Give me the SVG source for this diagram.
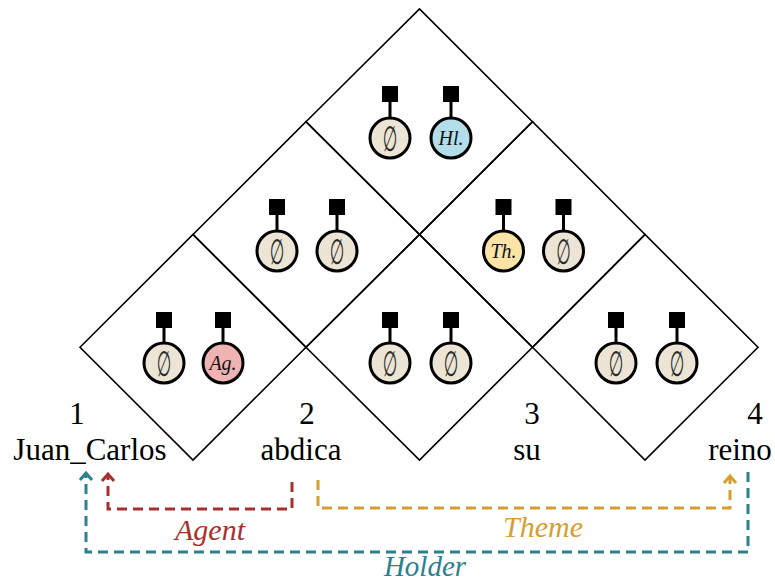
<svg xmlns="http://www.w3.org/2000/svg" width="775" height="582" viewBox="0 0 775 582">
<defs>
<style>
.cell{fill:none;stroke:#000;stroke-width:1.6;stroke-linejoin:miter}
.sq{fill:#000}
.stem{stroke:#000;stroke-width:3}
.c{stroke:#000;stroke-width:3;fill:#ECE5D5}
.ag{fill:#F0B3B3}
.hl{fill:#B3DDE8}
.th{fill:#FCE3A6}
.es{font-family:"DejaVu Sans",sans-serif;font-size:27px;fill:#2a2a2a;text-anchor:middle;dominant-baseline:central}
.rl{font-family:"Liberation Serif","DejaVu Serif",serif;font-style:italic;font-size:20px;fill:#111;text-anchor:middle}
.wd{font-family:"Liberation Serif","Times New Roman",serif;font-size:31px;fill:#000;text-anchor:middle}
.lab{font-family:"Liberation Serif","Times New Roman",serif;font-style:italic;font-size:30px;text-anchor:middle}
.arr{fill:none;stroke-width:3;stroke-dasharray:10 6}
</style>
<marker id="mRed" markerUnits="userSpaceOnUse" markerWidth="20" markerHeight="20" refX="0" refY="0" viewBox="-10 -10 20 20" orient="auto" overflow="visible">
<path d="M-7,-6 L0,0 L-7,6" fill="none" stroke="#A8302C" stroke-width="3"/>
</marker>
<marker id="mTeal" markerUnits="userSpaceOnUse" markerWidth="20" markerHeight="20" refX="0" refY="0" viewBox="-10 -10 20 20" orient="auto" overflow="visible">
<path d="M-7,-6 L0,0 L-7,6" fill="none" stroke="#2C8090" stroke-width="3"/>
</marker>
<marker id="mGold" markerUnits="userSpaceOnUse" markerWidth="20" markerHeight="20" refX="0" refY="0" viewBox="-10 -10 20 20" orient="auto" overflow="visible">
<path d="M-7,-6 L0,0 L-7,6" fill="none" stroke="#D4A030" stroke-width="3"/>
</marker>
</defs>
<rect width="775" height="582" fill="#fff"/>

<g id="chart">
<polygon class="cell" points="80,347.25 193,234.5 306,347.25 193,460"/>
<polygon class="cell" points="306,347.25 419.5,234.5 532.5,347.25 419.5,460"/>
<polygon class="cell" points="532.5,347.25 645,234.5 758,347.25 645,460"/>
<polygon class="cell" points="193,234.5 306,121.75 419.5,234.5 306,347.25"/>
<polygon class="cell" points="419.5,234.5 532.5,121.75 645,234.5 532.5,347.25"/>
<polygon class="cell" points="306,121.75 419.5,9 532.5,121.75 419.5,234.5"/>
</g>

<!-- top cell -->
<g id="n-1-4-a"><rect class="sq" x="382" y="86" width="16" height="16"/><line class="stem" x1="390" y1="102" x2="390" y2="118"/><circle class="c" cx="390" cy="138" r="20"/><text class="es" transform="translate(390,138) scale(0.62,1.3)">∅</text></g>
<g id="n-1-4-b"><rect class="sq" x="443" y="86" width="16" height="16"/><line class="stem" x1="451" y1="102" x2="451" y2="118"/><circle class="c hl" cx="451" cy="138" r="20"/><text class="rl" x="451" y="145">Hl.</text></g>
<!-- middle row -->
<g id="n-1-3-a"><rect class="sq" x="269" y="199" width="16" height="16"/><line class="stem" x1="277" y1="215" x2="277" y2="231"/><circle class="c" cx="277" cy="251" r="20"/><text class="es" transform="translate(277,251) scale(0.62,1.3)">∅</text></g>
<g id="n-1-3-b"><rect class="sq" x="329" y="199" width="16" height="16"/><line class="stem" x1="337" y1="215" x2="337" y2="231"/><circle class="c" cx="337" cy="251" r="20"/><text class="es" transform="translate(337,251) scale(0.62,1.3)">∅</text></g>
<g id="n-2-4-a"><rect class="sq" x="495.5" y="199" width="16" height="16"/><line class="stem" x1="503.5" y1="215" x2="503.5" y2="231"/><circle class="c th" cx="503.5" cy="251" r="20"/><text class="rl" x="503.5" y="258">Th.</text></g>
<g id="n-2-4-b"><rect class="sq" x="555.5" y="199" width="16" height="16"/><line class="stem" x1="563.5" y1="215" x2="563.5" y2="231"/><circle class="c" cx="563.5" cy="251" r="20"/><text class="es" transform="translate(563.5,251) scale(0.62,1.3)">∅</text></g>
<!-- bottom row -->
<g id="n-1-2-a"><rect class="sq" x="156" y="312" width="16" height="16"/><line class="stem" x1="164" y1="328" x2="164" y2="343"/><circle class="c" cx="164" cy="363" r="20"/><text class="es" transform="translate(164,363) scale(0.62,1.3)">∅</text></g>
<g id="n-1-2-b"><rect class="sq" x="215" y="312" width="16" height="16"/><line class="stem" x1="223" y1="328" x2="223" y2="343"/><circle class="c ag" cx="223" cy="363" r="20"/><text class="rl" x="223" y="370">Ag.</text></g>
<g id="n-2-3-a"><rect class="sq" x="382" y="312" width="16" height="16"/><line class="stem" x1="390" y1="328" x2="390" y2="343"/><circle class="c" cx="390" cy="363" r="20"/><text class="es" transform="translate(390,363) scale(0.62,1.3)">∅</text></g>
<g id="n-2-3-b"><rect class="sq" x="443" y="312" width="16" height="16"/><line class="stem" x1="451" y1="328" x2="451" y2="343"/><circle class="c" cx="451" cy="363" r="20"/><text class="es" transform="translate(451,363) scale(0.62,1.3)">∅</text></g>
<g id="n-3-4-a"><rect class="sq" x="608" y="312" width="16" height="16"/><line class="stem" x1="616" y1="328" x2="616" y2="343"/><circle class="c" cx="616" cy="363" r="20"/><text class="es" transform="translate(616,363) scale(0.62,1.3)">∅</text></g>
<g id="n-3-4-b"><rect class="sq" x="669" y="312" width="16" height="16"/><line class="stem" x1="677" y1="328" x2="677" y2="343"/><circle class="c" cx="677" cy="363" r="20"/><text class="es" transform="translate(677,363) scale(0.62,1.3)">∅</text></g>

<g id="words">
<text class="wd" x="77" y="424">1</text>
<text class="wd" x="90" y="460">Juan_Carlos</text>
<text class="wd" x="307" y="424">2</text>
<text class="wd" x="301" y="460">abdica</text>
<text class="wd" x="532" y="424">3</text>
<text class="wd" x="527" y="460">su</text>
<text class="wd" x="755" y="424">4</text>
<text class="wd" x="740" y="460">reino</text>
</g>

<g id="connectors">
<path class="arr" stroke="#A8302C" d="M292,482 V509 H108 V474" marker-end="url(#mRed)"/>
<path class="arr" stroke="#D4A030" d="M318,480 V508 H730 V476" marker-end="url(#mGold)"/>
<path class="arr" stroke="#2C8090" d="M748,472 V552 H86 V473" marker-end="url(#mTeal)"/>
<text class="lab" x="210" y="540" fill="#A8302C">Agent</text>
<text class="lab" x="543" y="537" fill="#D4A030">Theme</text>
<text class="lab" x="425" y="576" fill="#2C8090" style="font-size:29px">Holder</text>
</g>
</svg>
